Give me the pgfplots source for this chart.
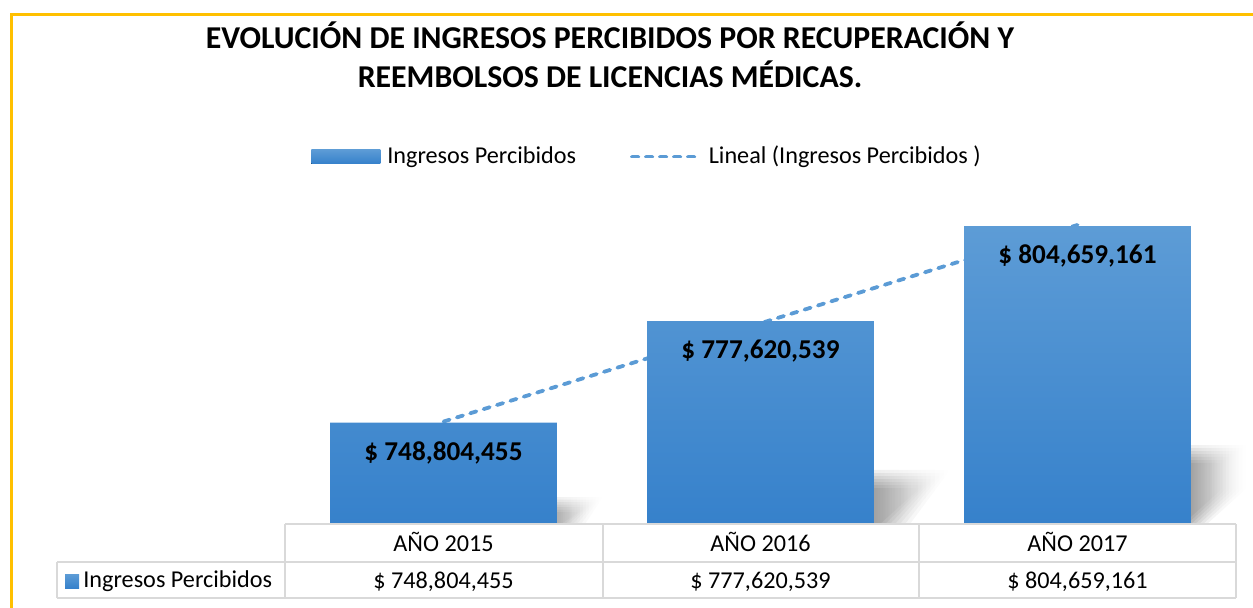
\documentclass[border=0pt]{standalone}
\usepackage{fontspec}
\setmainfont{Carlito}
\usepackage{pgfplots}
\pgfplotsset{compat=1.18}
\usetikzlibrary{shadings,fadings}
\definecolor{barTop}{HTML}{5D9CD6}
\definecolor{barBot}{HTML}{3681CB}
\definecolor{trendC}{HTML}{5B9BD5}
\definecolor{frameC}{HTML}{FFC000}
\definecolor{gridC}{HTML}{D9D9D9}
\newcommand\tabfont{\fontsize{12.1}{14}\selectfont}
\tikzset{trendstyle/.style={trendC, line width=1.9pt, line cap=round, dash pattern=on 3.2pt off 3.8pt}}
\begin{document}
\begin{tikzpicture}
\path[use as bounding box] (0,0) rectangle (626.5pt,303.5pt);
\begin{scope}[x=0.5pt,y=-0.5pt,yshift=303.5pt]
% outer chart frame (cropped)
\draw[line width=1.3pt, frameC] (11.5,612) -- (11.5,14.5) -- (1260,14.5);
% title
\node[anchor=base, font=\bfseries\fontsize{15.9}{18}\selectfont, inner sep=0pt] at (610,48.5) {EVOLUCIÓN DE INGRESOS PERCIBIDOS POR RECUPERACIÓN Y};
\node[anchor=base, font=\bfseries\fontsize{15.9}{18}\selectfont, inner sep=0pt] at (610,87) {REEMBOLSOS DE LICENCIAS MÉDICAS.};
% soft (blurred) shadows behind the bars
\foreach \k in {0,...,6}{
  \fill[black, opacity=0.08, path fading=east] (540,{497+\k*2.5}) -- ({603-\k*4},{497+\k*2.5}) -- ({585-\k*4},524) -- (540,524) -- cycle;
  \fill[black, opacity=0.08, path fading=east] (860,{470+\k*3}) -- ({950-\k*5},{470+\k*3}) -- ({910-\k*5},524) -- (860,524) -- cycle;
  \fill[black, opacity=0.08, path fading=east] (1180,{445+\k*3}) -- ({1247-\k*4},{445+\k*3}) -- ({1247-\k*4},{488}) -- ({1207-\k*4},524) -- (1180,524) -- cycle;
}
\end{scope}
\begin{axis}[
  at={(142.5pt,41.5pt)}, anchor=south west,
  scale only axis, width=475.5pt, height=158.4pt,
  xmin=-0.5, xmax=2.5, ymin=720000000, ymax=810000000,
  axis line style={draw=none},
  ytick=\empty,
  xtick={0,1,2}, xticklabels={AÑO 2015, AÑO 2016, AÑO 2017},
  xtick style={draw=none}, major tick length=0pt,
  xticklabel style={anchor=base, yshift=-13.85pt, font=\tabfont},
  clip=false,
  legend columns=2,
  legend style={at={(0.0273,1.160)}, anchor=west, draw=none, fill=none,
    inner sep=0pt, nodes={inner sep=0pt},
    font=\tabfont,
    /tikz/every odd column/.append style={column sep=3.5pt},
    /tikz/every even column/.append style={column sep=27pt}},
]
% linear trend (drawn first, so it passes behind the bars)
\addplot[trendstyle, forget plot]
  coordinates {(0,749100699) (1,777028052) (2,804955405)};
% bars
\addplot[ybar, bar width=0.716, draw=none, top color=barTop, bottom color=barBot,
  point meta=explicit symbolic, nodes near coords,
  nodes near coords style={anchor=center, yshift=-15pt, font=\bfseries\fontsize{13.6}{15}\selectfont, text=black},
  legend image code/.code={\fill[top color=barTop, bottom color=barBot] (0pt,-3.5pt) rectangle (34.5pt,3.5pt);}]
  coordinates {(0,748804455) [\$ 748,804,455] (1,777620539) [\$ 777,620,539] (2,804659161) [\$ 804,659,161]};
\addlegendentry{Ingresos Percibidos}
% data table values row
\addplot[draw=none, mark=none, forget plot, point meta=explicit symbolic, nodes near coords,
  nodes near coords style={anchor=base, yshift=-32pt, font=\tabfont, text=black}]
  coordinates {(0,720000000) [\$ 748,804,455] (1,720000000) [\$ 777,620,539] (2,720000000) [\$ 804,659,161]};
\addlegendimage{legend image code/.code={\draw[trendstyle] (1pt,0pt) -- (35pt,0pt);}}
\addlegendentry{Lineal (Ingresos Percibidos )}
\end{axis}
\begin{scope}[x=0.5pt,y=-0.5pt,yshift=303.5pt]
% data table grid
\begin{scope}[gridC, line width=1pt]
\draw (285,524) -- (1236,524);
\draw (57,562) -- (1236,562);
\draw (57,598) -- (1236,598);
\draw (57,562) -- (57,598);
\draw (285,524) -- (285,598);
\draw (603,524) -- (603,598);
\draw (919,524) -- (919,598);
\draw (1236,524) -- (1236,598);
\end{scope}
\fill[top color=barTop, bottom color=barBot] (65,574) rectangle (79,588);
\node[anchor=base west, inner sep=0pt, font=\tabfont] at (83,587) {Ingresos Percibidos};
\end{scope}
\end{tikzpicture}
\end{document}
